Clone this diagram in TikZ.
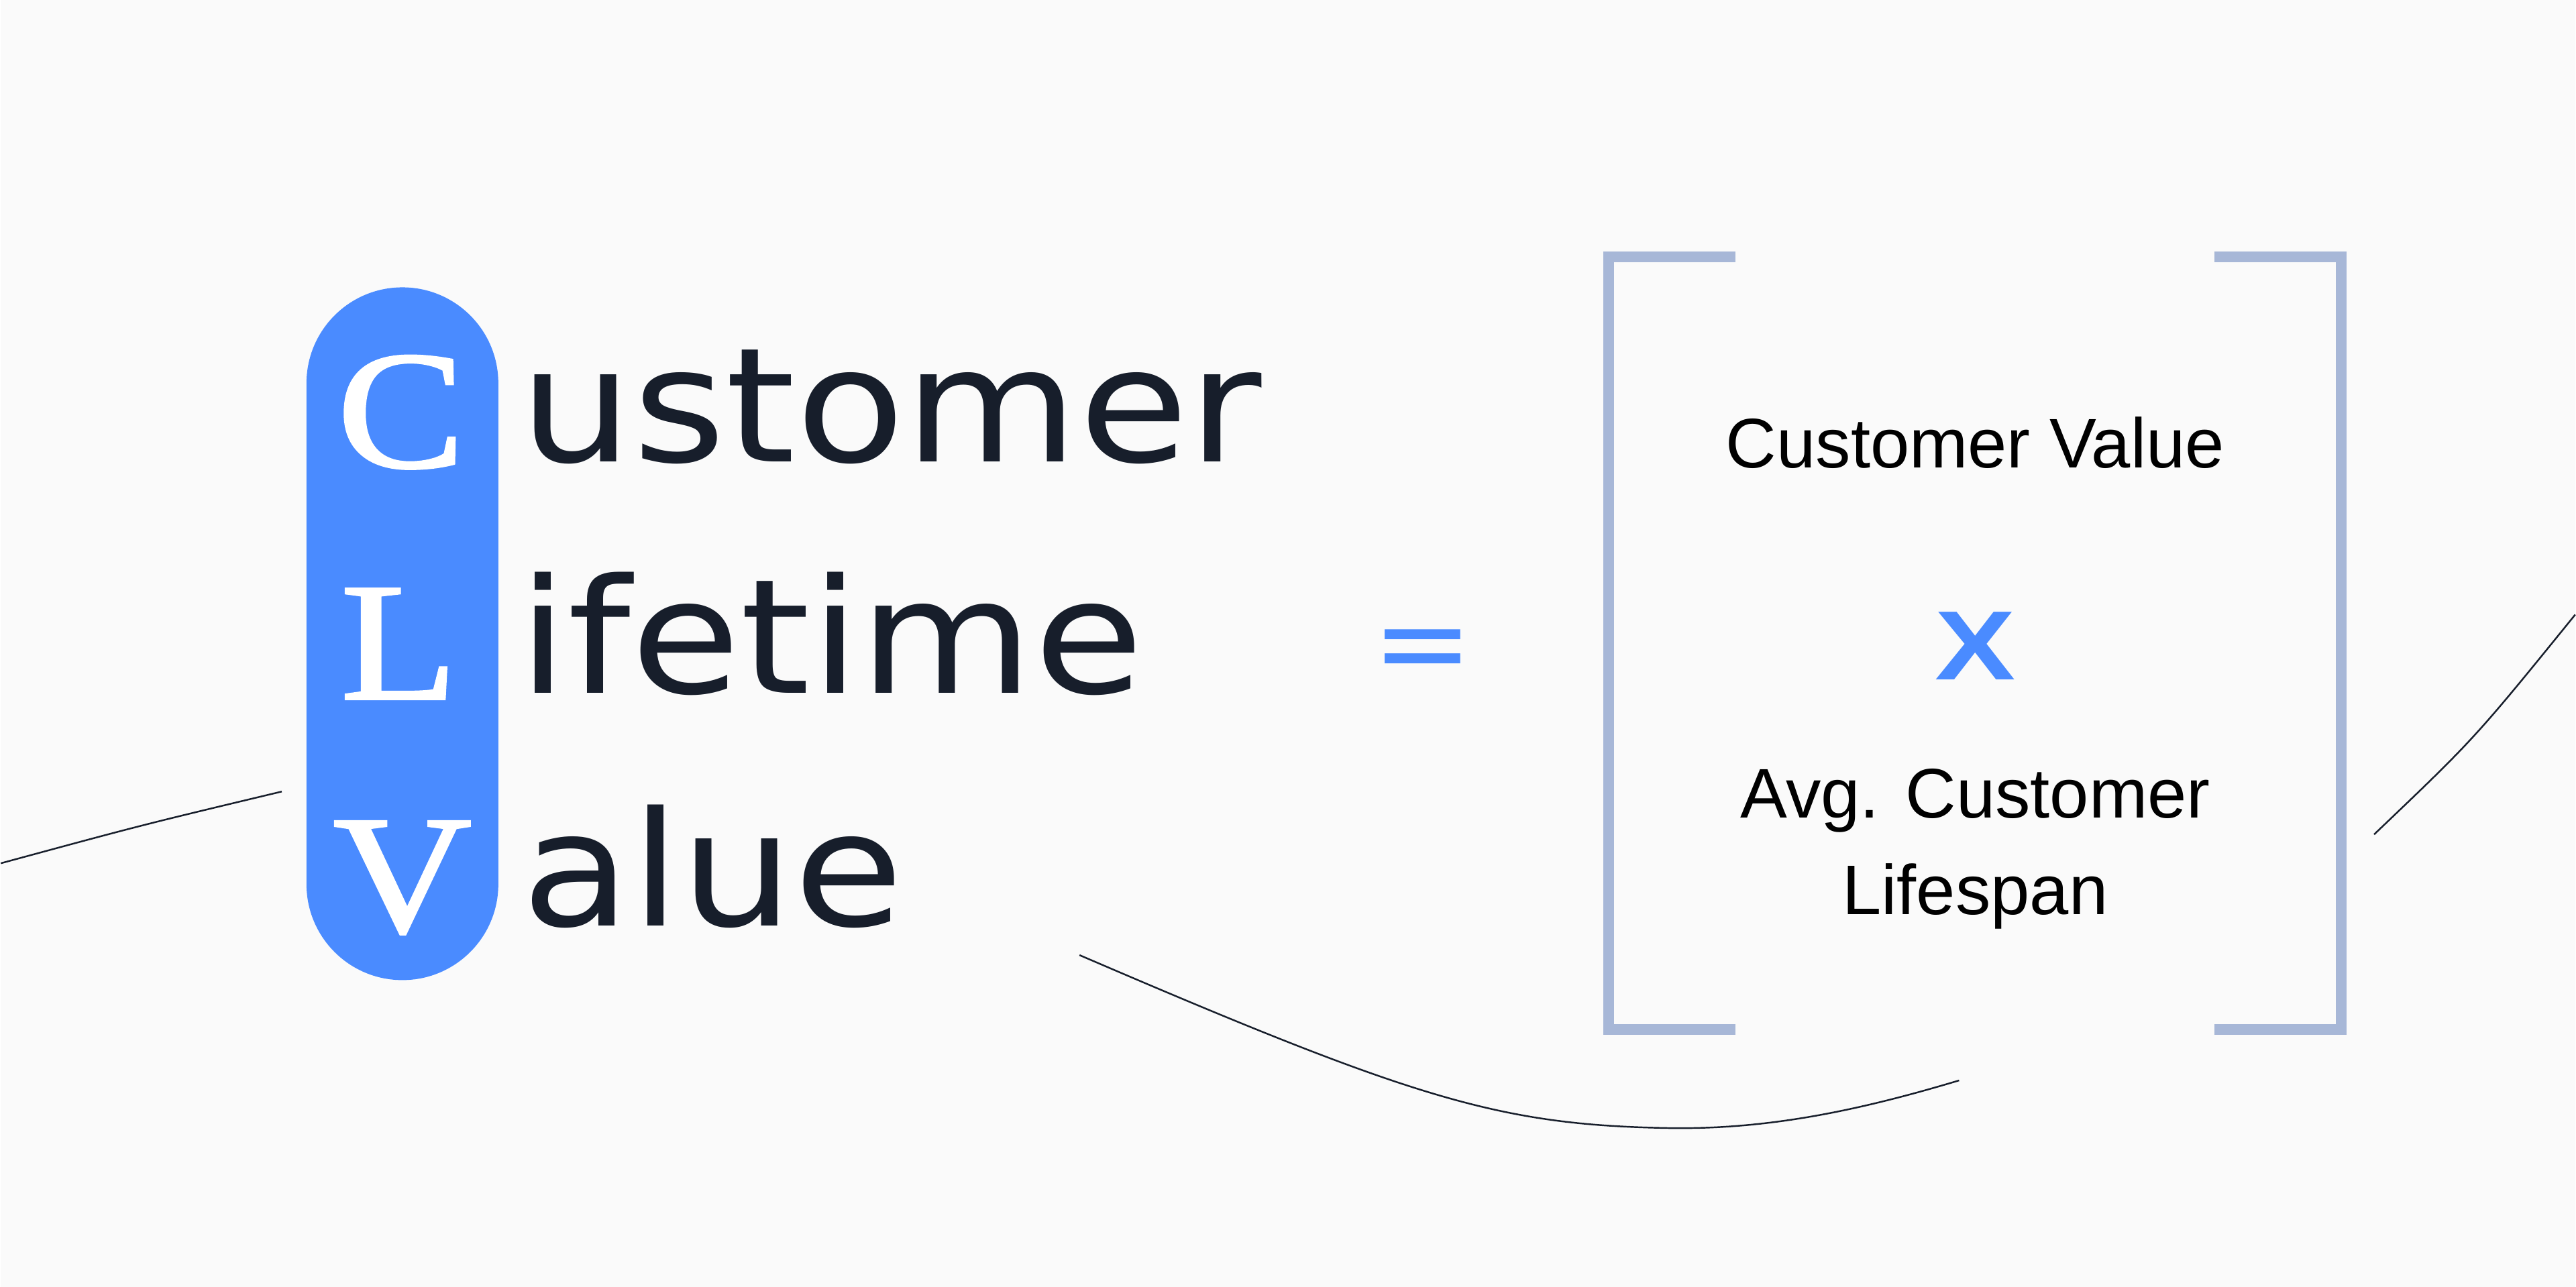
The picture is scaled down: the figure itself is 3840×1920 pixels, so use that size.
\documentclass[tikz,border=0pt]{standalone}
\usepackage{fontspec}
\setmainfont{DejaVu Sans}
\newfontfamily\wordfont[FakeStretch=1.12]{DejaVu Sans}
\newfontfamily\letterfont[FakeStretch=1.14,FakeBold=1.5]{Liberation Serif}
\newfontfamily\formulafont{Liberation Sans}
\usepackage{tikz}
\definecolor{clvblue}{HTML}{4A8BFF}
\definecolor{ink}{HTML}{171E2B}
\definecolor{bracketgrey}{HTML}{A7B7D7}
\definecolor{paper}{HTML}{FAFAFA}

\begin{document}
\begin{tikzpicture}[x=0.01cm,y=-0.01cm,
  pill/.style={fill=clvblue,rounded corners=1.43cm,minimum width=2.86cm,minimum height=10.33cm,inner sep=0pt},
  letter/.style={text=white,font=\letterfont\fontsize{71.4}{71.4}\selectfont,anchor=base,inner sep=0pt},
  word/.style={text=ink,font=\wordfont\fontsize{67.6}{67.6}\selectfont,anchor=base west,inner sep=0pt},
  formula/.style={text=black,font=\formulafont\fontsize{29.8}{41}\selectfont,align=center,anchor=base,inner sep=0pt},
  bracket/.style={draw=bracketgrey,line width=0.16cm,line join=miter},
  curve/.style={draw=ink,line width=0.7pt}]

\fill[paper] (0,0) rectangle (3840,1920);

% background strokes
\draw[curve] (0,1288) .. controls (210,1231) .. (419,1181);
\draw[curve] (1609,1425) .. controls (2109,1640) and (2234,1678) .. (2484,1683)
  .. controls (2634,1686) and (2771,1657) .. (2921,1612);
\draw[curve] (3540,1245) .. controls (3690,1102) .. (3840,917);

% left: the acronym
\node[pill] (pill) at (599,945.5) {};
\node[letter] (C) at (597,697) {C};
\node[letter] (L) at (594,1043) {L};
\node[letter] (V) at (599,1390) {V};
\node[word] (ustomer) at (773,689) {ustomer};
\node[word] (ifetime) at (771,1034) {ifetime};
\node[word] (alue) at (776,1381) {alue};

\node[text=clvblue,font=\fontsize{51.2}{51.2}\selectfont,anchor=base,inner sep=0pt] (eq) at (2121,1021) {=};

% right: the formula in brackets
\draw[bracket] (2587,383) -- (2398,383) -- (2398,1536) -- (2587,1536);
\draw[bracket] (3302,383) -- (3491,383) -- (3491,1536) -- (3302,1536);
\node[formula] (cv) at (2945,698) {Customer Value};
\node[text=clvblue,font=\formulafont\bfseries\fontsize{41.7}{41.7}\selectfont,inner sep=0pt] (times) at (2945,964) {\scalebox{1.23}[1]{X}};
\node[formula] (span) at (2945,1364) {Avg. Customer\\Lifespan};
\end{tikzpicture}
\end{document}
